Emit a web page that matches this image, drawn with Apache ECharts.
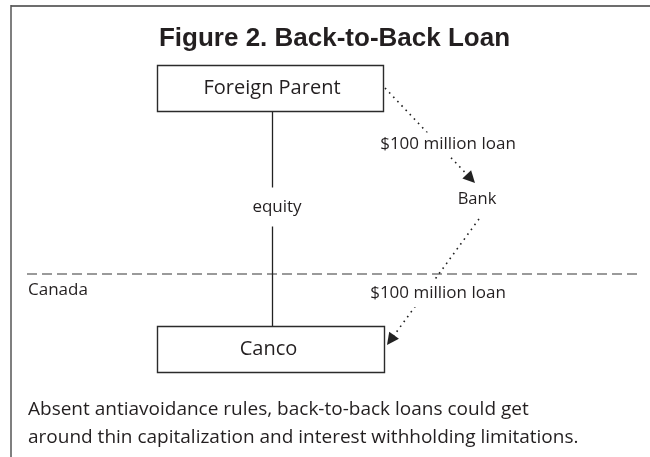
<!DOCTYPE html>
<html>
<head>
<meta charset="utf-8">
<script src="https://cdn.jsdelivr.net/npm/echarts@6/dist/echarts.min.js"></script>
<style>
html,body{margin:0;padding:0;background:#fff;}
#chart{width:650px;height:457px;}
</style>
</head>
<body>
<div id="chart"></div>
<script>
// ---- content (text / values) ----
const titleText = 'Figure 2. Back-to-Back Loan';
const entityNames = ['Foreign Parent', 'Bank', 'Canco'];
const boxedEntities = ['Foreign Parent', 'Canco'];
const loanAmountsMillions = [100, 100];
const flowFrom = ['Foreign Parent', 'Bank', 'Foreign Parent'];
const flowTo = ['Bank', 'Canco', 'Canco'];
const flowKinds = ['loan', 'loan', 'equity'];
const regionLabels = ['Canada'];
const captionLines = [
  'Absent antiavoidance rules, back-to-back loans could get',
  'around thin capitalization and interest withholding limitations.'
];

// ---- layout (diagram coordinate space, drawn through hidden value axes) ----
const space = { w: 650, h: 457 };
const entityPos = { 'Foreign Parent': [270, 88], 'Bank': [477, 199], 'Canco': [270.5, 349] };
const entityLabelPos = { 'Foreign Parent': [272, 88.5], 'Bank': [477, 199], 'Canco': [268.5, 349.5] };
const boxSize = { 'Foreign Parent': [226, 46], 'Canco': [227, 46] };
const flowPaths = [
  [[385, 88], [475, 183]],
  [[479, 219], [387, 345]],
  [[272.5, 111], [272.5, 326]]
];
const flowLabelPos = [[448, 144], [438, 293], [277, 207]];
const dividerPath = [[27, 274], [640, 274]];
const regionLabelPos = [[28, 290]];
const captionPos = [[28, 410], [28, 438]];
const titlePos = [334.5, 39];
const framePaths = [
  [[11, 5.5], [650, 5.5]],
  [[10.75, 5], [10.75, 457]]
];

const ink = '#231f20';
const bodyFont = '"Open Sans"';

function flowLabel(i) {
  return flowKinds[i] === 'loan' ? '$' + loanAmountsMillions[i] + ' million loan' : flowKinds[i];
}

// shift the line end back so the triangle's tip lands on the arrow tip
const arrowLen = 12;
function shortened(path) {
  const [a, b] = path;
  const dx = b[0] - a[0], dy = b[1] - a[1];
  const L = Math.hypot(dx, dy);
  return [a, [b[0] - dx / L * arrowLen / 2, b[1] - dy / L * arrowLen / 2]];
}

const loanLines = [], equityLines = [];
flowKinds.forEach((k, i) => {
  if (k === 'loan') loanLines.push({ coords: shortened(flowPaths[i]) });
  else equityLines.push({ coords: flowPaths[i] });
});

// text items (built from the arrays above)
const texts = [];
texts.push({ t: titleText, p: titlePos, size: 26, weight: 'bold', family: '"Liberation Sans"', align: 'center' });
entityNames.forEach(n => texts.push({ t: n, p: entityLabelPos[n], size: boxedEntities.indexOf(n) >= 0 ? 20 : 16.5, align: 'center' }));
flowKinds.forEach((k, i) => texts.push({
  t: flowLabel(i), p: flowLabelPos[i], size: 17, align: 'center', bg: '#fff',
  pad: k === 'loan' ? (i === 0 ? [3, 3, 3, 3] : [9, 3, 2, 3]) : [11, 4, 11, 4]
}));
regionLabels.forEach((t, i) => texts.push({ t: t, p: regionLabelPos[i], size: 17, align: 'left' }));
captionLines.forEach((t, i) => texts.push({ t: t, p: captionPos[i], size: 19, align: 'left' }));

const option = {
  animation: false,
  backgroundColor: '#fff',
  grid: { left: 0, right: 0, top: 0, bottom: 0 },
  xAxis: { type: 'value', min: 0, max: space.w, show: false },
  yAxis: { type: 'value', min: 0, max: space.h, inverse: true, show: false },
  series: [
    // frame
    {
      type: 'lines', coordinateSystem: 'cartesian2d', silent: true, z: 1,
      data: framePaths.map((p, i) => ({ coords: p, lineStyle: { width: i === 0 ? 2 : 1.5, color: i === 0 ? '#6d6d6d' : '#555' } })),
      lineStyle: { type: 'solid', opacity: 1 }
    },
    // divider
    {
      type: 'lines', coordinateSystem: 'cartesian2d', silent: true, z: 1,
      data: [{ coords: dividerPath }],
      lineStyle: { color: '#9a9a9a', width: 2, type: [10, 5], opacity: 1 }
    },
    // equity line
    {
      type: 'lines', coordinateSystem: 'cartesian2d', silent: true, z: 2,
      data: equityLines,
      lineStyle: { color: '#222', width: 1.3, type: 'solid', opacity: 1 }
    },
    // loan arrows
    {
      type: 'lines', coordinateSystem: 'cartesian2d', silent: true, z: 2,
      data: loanLines,
      symbol: ['none', 'triangle'], symbolSize: [10, arrowLen],
      lineStyle: { color: '#222', width: 1.6, type: [1.6, 4.4], opacity: 1 },
      itemStyle: { color: '#111' }
    },
    // boxes
    {
      type: 'custom', coordinateSystem: 'cartesian2d', silent: true, z: 3,
      data: boxedEntities.map(n => [entityPos[n][0], entityPos[n][1], boxSize[n][0], boxSize[n][1]]),
      renderItem: function (params, api) {
        const c = api.coord([api.value(0), api.value(1)]);
        const s = api.size([api.value(2), api.value(3)]);
        return {
          type: 'rect',
          shape: { x: Math.round(c[0] - s[0] / 2) + 0.5, y: Math.round(c[1] - s[1] / 2) + 0.5, width: Math.round(s[0]), height: Math.round(s[1]) },
          style: { fill: '#fff', stroke: '#2b2b2b', lineWidth: 1.4 }
        };
      }
    },
    // all text
    {
      type: 'custom', coordinateSystem: 'cartesian2d', silent: true, z: 5,
      data: texts.map(o => o.p),
      renderItem: function (params, api) {
        const o = texts[params.dataIndex];
        const c = api.coord([api.value(0), api.value(1)]);
        const style = {
          text: o.t, fill: ink, fontSize: o.size, fontFamily: o.family || bodyFont,
          fontWeight: o.weight || 'normal', align: o.align, verticalAlign: 'middle'
        };
        if (o.bg) { style.backgroundColor = o.bg; style.padding = o.pad; }
        return { type: 'text', x: c[0], y: c[1], style: style };
      }
    }
  ]
};

const chart = echarts.init(document.getElementById('chart'), null, { renderer: 'canvas' });
chart.setOption(option);
</script>
</body>
</html>
